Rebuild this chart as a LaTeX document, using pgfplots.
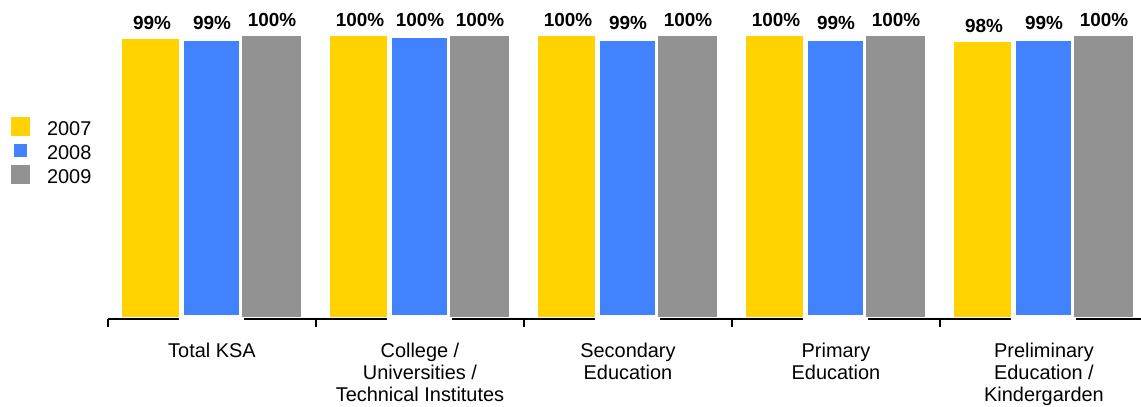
\documentclass[border=0pt]{standalone}
\usepackage{fontspec}
\setmainfont{Liberation Sans}
\usepackage{pgfplots}
\pgfplotsset{compat=1.18}

\definecolor{barYellow}{RGB}{255,210,0}
\definecolor{barBlue}{RGB}{66,130,255}
\definecolor{barGray}{RGB}{146,146,146}

% square legend swatch: #1 colour, #2 inset from the 20bp cell
\pgfplotsset{
  swatch/.style 2 args={legend image code/.code={%
    \fill[#1, draw=none, overlay] (#2,-8.5bp+#2) rectangle (20bp-#2,11.5bp-#2);
    \path[draw=none, fill=none] (0bp,6bp) rectangle (20bp,7bp);}},
}

\begin{document}
\begin{tikzpicture}
\useasboundingbox (0,0) rectangle (1141bp,407bp);
\clip (0,0) rectangle (1141bp,407bp);
\begin{axis}[
  at={(108bp,88bp)}, anchor=south west,
  scale only axis, width=1040bp, height=283bp,
  xmin=-0.5, xmax=4.5, ymin=-0.7, ymax=100,
  enlargelimits=false, clip=false,
  axis y line=none, axis x line*=bottom,
  axis line style={black, line width=1.5bp},
  ybar, bar width=60bp,
  xtick={0,1,2,3,4},
  xticklabels={Total KSA,
    {College /\\Universities /\\Technical Institutes},
    {Secondary\\Education},
    {Primary\\Education},
    {Preliminary\\Education /\\Kindergarden}},
  major tick length=0pt,
  minor xtick={-0.5,0.5,1.5,2.5,3.5,4.5},
  minor tick length=8bp,
  tick align=outside,
  minor tick style={black, line width=1.5bp},
  xticklabel style={align=center, anchor=north, inner sep=0pt, yshift=-24bp,
    font=\fontsize{20}{22}\selectfont},
  nodes near coords={\pgfmathprintnumber[fixed,precision=0,assume math mode=true]{\pgfplotspointmeta}\%},
  every node near coord/.append style={anchor=base, yshift=9.5bp, inner sep=0pt,
    font=\fontsize{19}{22}\selectfont\bfseries, black},
  legend style={at={(-0.0942,0.7102)}, anchor=north west, draw=none, fill=none,
    inner sep=0pt, outer sep=0pt, row sep=4bp,
    font=\fontsize{20}{24}\selectfont,
    nodes={inner sep=0pt, text height=17bp, text depth=3bp},
    /tikz/every odd column/.style={column sep=17bp}},
  legend cell align=left,
]
\addplot[fill=barYellow, draw=white, line width=1bp, bar shift=-60bp,
  swatch={barYellow}{0.5bp}]
  coordinates {(0,99) (1,100) (2,100) (3,100) (4,98)};
\addplot[fill=barBlue, draw=white, line width=5bp, bar shift=0bp,
  swatch={barBlue}{3.5bp}]
  coordinates {(0,99) (1,100) (2,99) (3,99) (4,99)};
\addplot[fill=barGray, draw=white, line width=1bp, bar shift=60bp,
  swatch={barGray}{0.5bp}]
  coordinates {(0,100) (1,100) (2,100) (3,100) (4,100)};
\legend{2007,2008,2009}
\end{axis}
\end{tikzpicture}
\end{document}
